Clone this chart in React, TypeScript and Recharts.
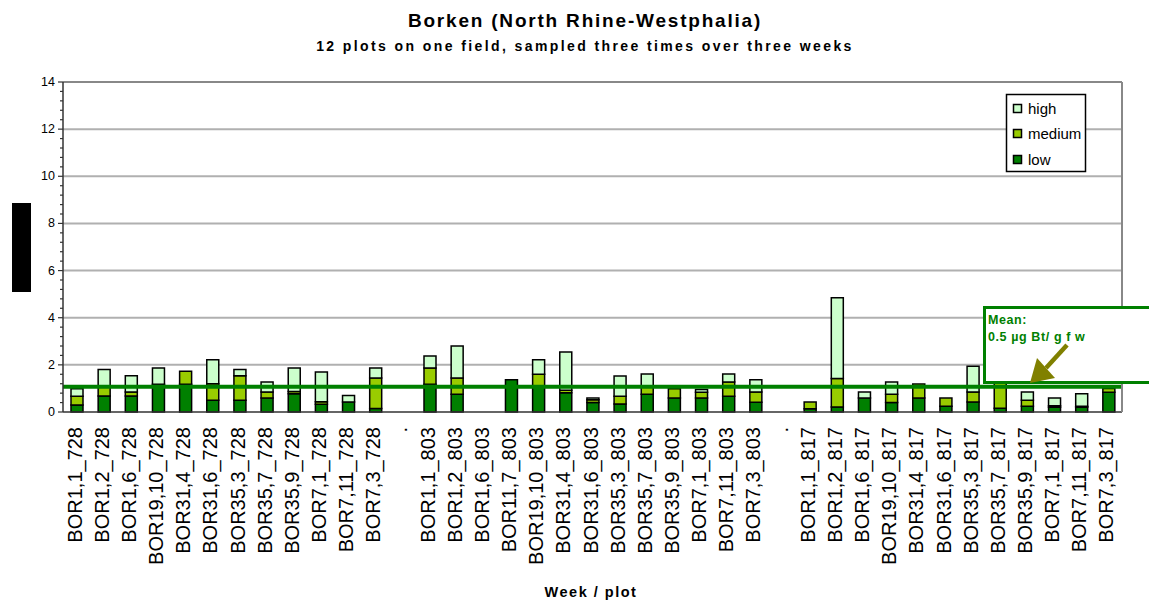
import React from 'react';
import { ComposedChart, Bar, XAxis, YAxis, ReferenceLine, CartesianGrid } from 'recharts';

const categories = [
  'BOR1,1_728', 'BOR1,2_728', 'BOR1,6_728', 'BOR19,10_728', 'BOR31,4_728', 'BOR31,6_728',
  'BOR35,3_728', 'BOR35,7_728', 'BOR35,9_728', 'BOR7,1_728', 'BOR7,11_728', 'BOR7,3_728',
  '.',
  'BOR1,1_803', 'BOR1,2_803', 'BOR1,6_803', 'BOR11,7_803', 'BOR19,10_803', 'BOR31,4_803',
  'BOR31,6_803', 'BOR35,3_803', 'BOR35,7_803', 'BOR35,9_803', 'BOR7,1_803', 'BOR7,11_803', 'BOR7,3_803',
  '.',
  'BOR1,1_817', 'BOR1,2_817', 'BOR1,6_817', 'BOR19,10_817', 'BOR31,4_817', 'BOR31,6_817',
  'BOR35,3_817', 'BOR35,7_817', 'BOR35,9_817', 'BOR7,1_817', 'BOR7,11_817', 'BOR7,3_817',
];

const lowValues = [
  0.30, 0.68, 0.68, 1.12, 1.18, 0.50, 0.50, 0.59, 0.77, 0.33, 0.42, 0.15,
  0,
  1.18, 0.75, 0, 1.37, 1.05, 0.82, 0.40, 0.34, 0.75, 0.59, 0.59, 0.67, 0.41,
  0,
  0.14, 0.21, 0.59, 0.40, 0.59, 0.24, 0.42, 0.16, 0.24, 0.20, 0.20, 0.84,
];

const mediumValues = [
  0.37, 0.37, 0.17, 0.06, 0.55, 0.70, 1.04, 0.26, 0.10, 0.10, 0, 1.29,
  0,
  0.69, 0.69, 0, 0, 0.55, 0.10, 0.12, 0.33, 0.30, 0.40, 0.25, 0.60, 0.44,
  0,
  0.28, 1.21, 0, 0.35, 0.60, 0.35, 0.43, 1.09, 0.26, 0.07, 0.04, 0.16,
];

const highValues = [
  0.32, 0.75, 0.69, 0.69, 0, 1.02, 0.26, 0.42, 1.00, 1.27, 0.28, 0.43,
  0,
  0.51, 1.36, 0, 0, 0.62, 1.63, 0.07, 0.86, 0.56, 0, 0.11, 0.34, 0.52,
  0,
  0, 3.43, 0.26, 0.52, 0, 0, 1.09, 0, 0.35, 0.32, 0.53, 0,
];

const yTickLabels = [0, 2, 4, 6, 8, 10, 12, 14];
const gridValues = [2, 4, 6, 8, 10, 12];
const yMax = 14;
const meanValue = 1.07;

const seriesNames = ['high', 'medium', 'low'];
const seriesColors: Record<string, string> = { high: '#CCFFCC', medium: '#99CC00', low: '#008000' };

const data = categories.map((c, i) => ({
  key: String(i),
  label: c,
  low: lowValues[i],
  medium: mediumValues[i],
  high: highValues[i],
}));

const minorTicks = Array.from({ length: 36 }, (_, i) => Math.round(i * 4) / 10);

const FONT = '"Liberation Sans", Arial, sans-serif';

const XTick = (props: any) => {
  const { x, y, payload } = props;
  const label = categories[Number(payload.value)];
  const bx = x + 5;
  const by = y + 15;
  return (
    <text
      x={bx}
      y={by}
      transform={`rotate(-90 ${bx} ${by})`}
      textAnchor="end"
      fontSize={20}
      fontFamily={FONT}
      fill="#000"
    >
      {label}
    </text>
  );
};

const YTick = (props: any) => {
  const { x, y, payload } = props;
  const v = payload.value;
  const major = yTickLabels.includes(v);
  return (
    <g>
      <line x1={x - (major ? 5 : 3)} x2={x} y1={y} y2={y} stroke="#333" strokeWidth={1.2} />
      {major && (
        <text x={x - 8} y={y + 4} textAnchor="end" fontSize={12.5} fontFamily={FONT} fill="#000">
          {v}
        </text>
      )}
    </g>
  );
};

export default function App() {
  const legendRows = [109, 134, 160];
  return (
    <div style={{ position: 'relative', width: 1149, height: 600, background: '#fff' }}>
      <style>{'body{margin:0;}'}</style>
      <ComposedChart
        width={1149}
        height={600}
        data={data}
        margin={{ top: 82, right: 0, bottom: 38, left: 0 }}
        barGap={0}
      >
        <CartesianGrid
          yAxisId="left"
          vertical={false}
          horizontalValues={gridValues}
          stroke="#b0b0b0"
          strokeWidth={2}
        />
        <XAxis
          dataKey="key"
          height={150}
          interval={0}
          tick={<XTick />}
          tickLine={false}
          tickSize={0}
          tickMargin={0}
          axisLine={{ stroke: '#333', strokeWidth: 1.5 }}
        />
        <YAxis
          yAxisId="left"
          width={63}
          domain={[0, yMax]}
          ticks={minorTicks}
          interval={0}
          tick={<YTick />}
          tickLine={false}
          tickSize={0}
          tickMargin={0}
          axisLine={{ stroke: '#333', strokeWidth: 1.5 }}
        />
        <YAxis
          yAxisId="right"
          orientation="right"
          width={27}
          domain={[0, yMax]}
          ticks={[]}
          tick={false}
          tickLine={false}
          axisLine={{ stroke: '#888', strokeWidth: 2 }}
        />
        <ReferenceLine yAxisId="left" y={yMax} stroke="#888" strokeWidth={2} />
        <Bar yAxisId="left" dataKey="low" stackId="a" fill={seriesColors.low} stroke="#000" strokeWidth={1.5} barSize={12} isAnimationActive={false} />
        <Bar yAxisId="left" dataKey="medium" stackId="a" fill={seriesColors.medium} stroke="#000" strokeWidth={1.5} barSize={12} isAnimationActive={false} />
        <Bar yAxisId="left" dataKey="high" stackId="a" fill={seriesColors.high} stroke="#000" strokeWidth={1.5} barSize={12} isAnimationActive={false} />
        <ReferenceLine yAxisId="left" y={meanValue} stroke="#008000" strokeWidth={4} />
      </ComposedChart>
      <svg
        width={1149}
        height={600}
        style={{ position: 'absolute', left: 0, top: 0, pointerEvents: 'none' }}
        fontFamily={FONT}
      >
        <text x={585} y={27} textAnchor="middle" fontSize={19} fontWeight="bold" letterSpacing={1.8} fill="#000">
          Borken (North Rhine-Westphalia)
        </text>
        <text x={585} y={51} textAnchor="middle" fontSize={14} fontWeight="bold" letterSpacing={2.4} fill="#000">
          12 plots on one field, sampled three times over three weeks
        </text>
        <text x={591} y={597} textAnchor="middle" fontSize={14.5} fontWeight="bold" letterSpacing={1.5} fill="#000">
          Week / plot
        </text>
        <rect x={12} y={203} width={19} height={89} fill="#000" />
        <rect x={1006.5} y={94.5} width={79} height={77} fill="#fff" stroke="#000" strokeWidth={1.5} />
        {seriesNames.map((s, i) => (
          <g key={s}>
            <rect x={1013.5} y={legendRows[i] - 4.5} width={8} height={8} fill={seriesColors[s]} stroke="#000" strokeWidth={1.5} />
            <text x={1028} y={legendRows[i] + 5} fontSize={15} fill="#000">
              {s}
            </text>
          </g>
        ))}
        <rect x={984.5} y={307.5} width={200} height={75} fill="#fff" stroke="#008000" strokeWidth={3} />
        <text x={988} y={324} fontSize={12.5} fontWeight="bold" letterSpacing={0.6} fill="#008000">
          Mean:
        </text>
        <text x={988} y={341} fontSize={12.5} fontWeight="bold" letterSpacing={0.6} fill="#008000">
          0.5 µg Bt/ g f w
        </text>
        <line x1={1067} y1={345} x2={1046} y2={368} stroke="#808000" strokeWidth={4.5} />
        <polygon points="1030,383 1037,358 1055,378" fill="#808000" />
      </svg>
    </div>
  );
}
